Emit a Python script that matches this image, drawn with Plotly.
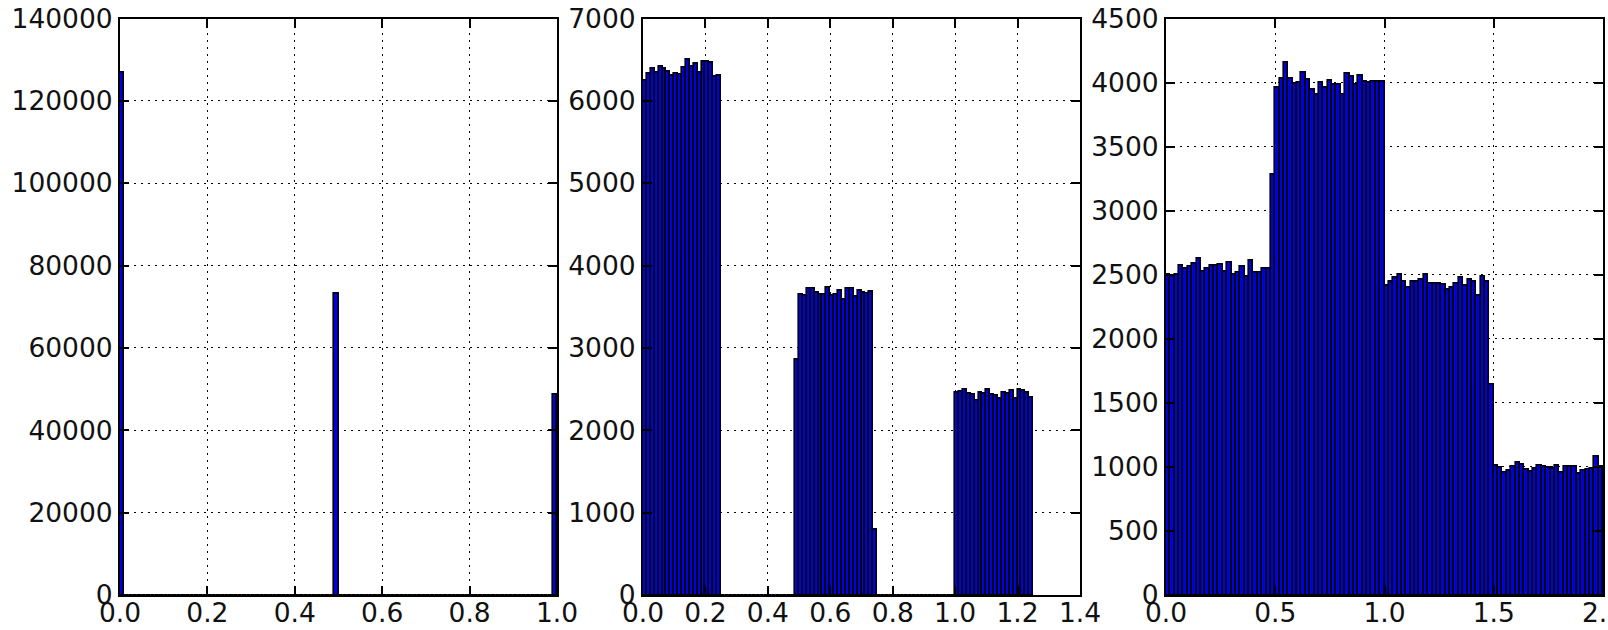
import plotly.graph_objects as go

# ---------------- data ----------------
# Panel 1: 100 bins over [0, 1]
p1_bin_width = 0.01
p1_counts = [0] * 100
p1_counts[0] = 127000
p1_counts[49] = 73100
p1_counts[99] = 48700

# Panel 2: 100 bins over [0, 1.25]
p2_bin_width = 0.0125
p2_group1 = [6250, 6330, 6390, 6340, 6420, 6390, 6360, 6310, 6330, 6320,
             6400, 6500, 6420, 6450, 6340, 6480, 6480, 6470, 6290, 6310]
p2_group2 = [2860,
             3653, 3633, 3716, 3716, 3677, 3653, 3643, 3731, 3633, 3643,
             3692, 3594, 3726, 3716, 3628, 3692, 3677, 3667, 3680,
             790]
p2_group3 = [2455, 2470, 2494, 2445, 2430, 2362, 2455, 2445, 2494, 2430,
             2420, 2386, 2455, 2445, 2479, 2381, 2494, 2479, 2455, 2396]
p2_counts = p2_group1 + [0] * 19 + p2_group2 + [0] * 20 + p2_group3

# Panel 3: 100 bins over [0, 2.0]
p3_bin_width = 0.02
p3_seg_a = [2498, 2488, 2498, 2570, 2551, 2561, 2586, 2624, 2529, 2551,
            2570, 2570, 2583, 2529, 2598, 2504, 2520, 2561, 2488, 2608,
            2514, 2520, 2545, 2545]
p3_step_a = [3280]
p3_seg_b = [3959, 4028, 4154, 4031, 3990, 3997, 4078, 4022, 3943, 3909,
            3997, 3965, 4015, 3984, 3981, 3909, 4069, 4047, 3984, 4053,
            4006, 3997, 4006, 4006, 4006]
p3_seg_c = [2413, 2451, 2476, 2498, 2451, 2404, 2451, 2444, 2466, 2498,
            2435, 2435, 2435, 2426, 2388, 2404, 2435, 2482, 2413, 2466,
            2451, 2341, 2488, 2451]
p3_step_c = [1640]
p3_seg_d = [1010, 995, 960, 972, 1000, 1038, 1020, 980, 962, 990,
            1008, 1000, 995, 988, 1012, 958, 1000, 1000, 1000, 945,
            972, 980, 988, 1078, 1000]
p3_counts = p3_seg_a + p3_step_a + p3_seg_b + p3_seg_c + p3_step_c + p3_seg_d

# axis ticks
p1_xticks = [0.0, 0.2, 0.4, 0.6, 0.8, 1.0]
p1_yticks = [0, 20000, 40000, 60000, 80000, 100000, 120000, 140000]
p2_xticks = [0.0, 0.2, 0.4, 0.6, 0.8, 1.0, 1.2, 1.4]
p2_yticks = [0, 1000, 2000, 3000, 4000, 5000, 6000, 7000]
p3_xticks = [0.0, 0.5, 1.0, 1.5, 2.0]
p3_yticks = [0, 500, 1000, 1500, 2000, 2500, 3000, 3500, 4000, 4500]

# ---------------- figure ----------------
W, H = 1608, 630
BAR_COLOR = "#0000e0"

def centers(n, w):
    return [(i + 0.5) * w for i in range(n)]

fig = go.Figure()
panels = [
    (p1_counts, p1_bin_width, "x", "y"),
    (p2_counts, p2_bin_width, "x2", "y2"),
    (p3_counts, p3_bin_width, "x3", "y3"),
]
for counts, bw, xa, ya in panels:
    fig.add_trace(go.Bar(
        x=centers(len(counts), bw), y=counts, width=bw,
        marker=dict(color=BAR_COLOR, line=dict(color="black", width=1.6)),
        xaxis=xa, yaxis=ya, showlegend=False, hoverinfo="x+y",
    ))

font = dict(family="DejaVu Sans", size=26.5, color="#111111")
ydom = [(H - 595) / H, (H - 18.5) / H]
xdoms = [[120 / W, 557 / W], [643 / W, 1080 / W], [1166 / W, 1603 / W]]
xranges = [[0, 1.0], [0, 1.4], [0, 2.0]]
yranges = [[0, 140000], [0, 7000], [0, 4500]]
xticks = [p1_xticks, p2_xticks, p3_xticks]
yticks = [p1_yticks, p2_yticks, p3_yticks]

common = dict(
    showline=True, linecolor="black", linewidth=2, mirror="ticks",
    ticks="inside", ticklen=9, tickwidth=1.5, tickcolor="black",
    showgrid=True, gridcolor="black", gridwidth=1, griddash="2px,5px",
    zeroline=False, tickfont=font, automargin=False, fixedrange=True,
    ticklabeloverflow="allow",
)

layout = dict(
    width=W, height=H, margin=dict(l=0, r=0, t=0, b=0),
    paper_bgcolor="white", plot_bgcolor="white", bargap=0,
)
for i in range(3):
    sx = "" if i == 0 else str(i + 1)
    layout["xaxis" + sx] = dict(
        domain=xdoms[i], range=xranges[i], tickvals=xticks[i],
        ticktext=["%.1f" % v for v in xticks[i]],
        anchor="y" + sx, ticklabelstandoff=-7, **common)
    layout["yaxis" + sx] = dict(
        domain=ydom, range=yranges[i], tickvals=yticks[i],
        ticktext=[str(v) for v in yticks[i]],
        anchor="x" + sx, ticklabelstandoff=0, **common)

fig.update_layout(**layout)
fig.write_html(
    "out.html",
    config={"displayModeBar": False},
    post_script="document.body.style.margin='0';document.body.style.overflow='hidden';",
)
